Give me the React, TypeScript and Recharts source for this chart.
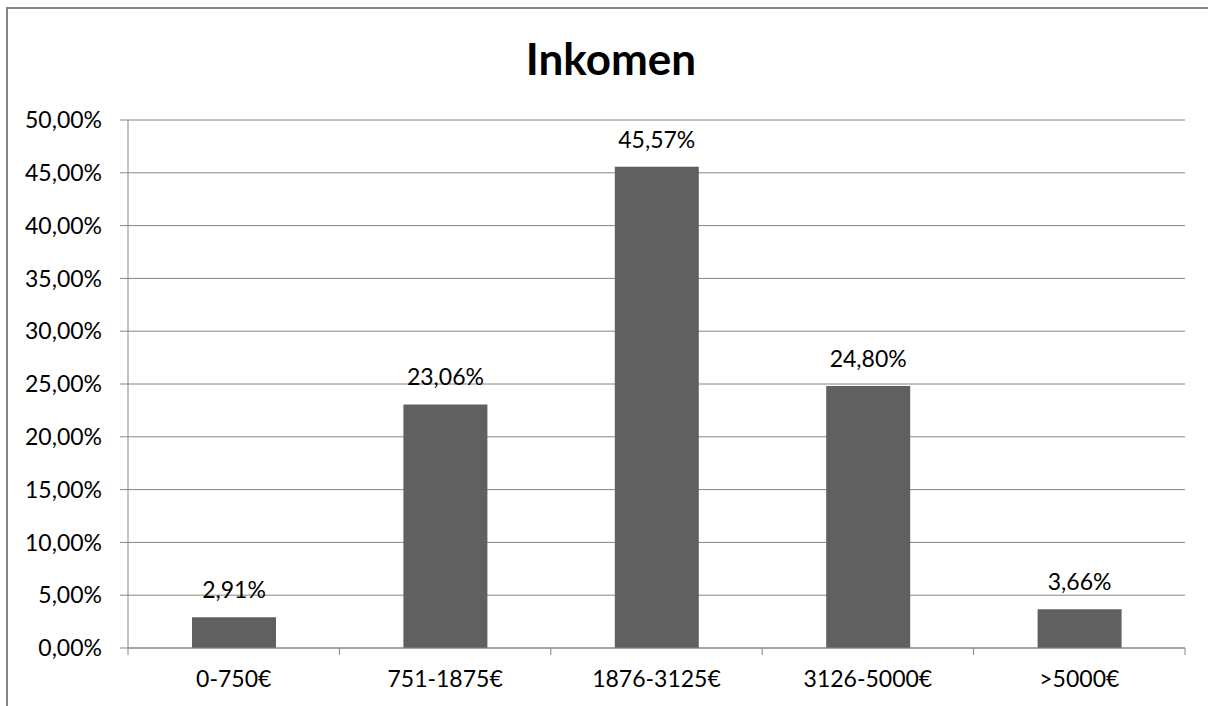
import { BarChart, Bar, XAxis, YAxis, CartesianGrid, LabelList } from "recharts";

const CATEGORIES = ["0-750€", "751-1875€", "1876-3125€", "3126-5000€", ">5000€"];
const SHARES = [2.91, 23.06, 45.57, 24.8, 3.66];
const Y_TICKS = [0, 5, 10, 15, 20, 25, 30, 35, 40, 45, 50];

const W = 1208;
const H = 706;
const MARGIN = { top: 120, right: 23, bottom: 18, left: 8 };
const Y_WIDTH = 120;
const BAND = (W - MARGIN.left - Y_WIDTH - MARGIN.right) / CATEGORIES.length;
const X_TICK_SIZE = 7;
const X_TICK_MARGIN = 16;
const GRID = "#868686";
const FONT = "Lato, 'Open Sans', sans-serif";
const TEXT_SIZE = 23;

const data = CATEGORIES.map((name, i) => ({ name, value: SHARES[i] }));

const pct = (v: number) => v.toFixed(2).replace(".", ",") + "%";

const CategoryTick = (props: any) => {
  const { x, y, payload, index } = props;
  const axisY = y - X_TICK_SIZE - X_TICK_MARGIN;
  const left = x - BAND / 2;
  return (
    <g>
      <line x1={left} y1={axisY} x2={left} y2={axisY + X_TICK_SIZE} stroke={GRID} />
      {index === CATEGORIES.length - 1 && (
        <line x1={left + BAND} y1={axisY} x2={left + BAND} y2={axisY + X_TICK_SIZE} stroke={GRID} />
      )}
      <text x={x} y={y} dy="0.71em" textAnchor="middle" fill="#000" fontSize={TEXT_SIZE} fontFamily={FONT}>
        {payload.value}
      </text>
    </g>
  );
};

const App = () => {
  return (
    <div
      style={{
        position: "fixed",
        left: 0,
        top: 0,
        width: W,
        height: H,
        overflow: "hidden",
        background: "#fff",
        fontFamily: FONT,
      }}
    >
      <div
        style={{
          position: "absolute",
          left: 6,
          top: 7,
          width: W,
          height: H,
          borderTop: `2px solid ${GRID}`,
          borderLeft: `2px solid ${GRID}`,
        }}
      />
      <div
        style={{
          position: "absolute",
          left: 7,
          top: 36,
          width: W,
          textAlign: "center",
          fontSize: 44,
          lineHeight: "44px",
          fontWeight: 700,
          color: "#000",
        }}
      >
        Inkomen
      </div>
      <div style={{ position: "absolute", left: 0, top: 0 }}>
        <BarChart width={W} height={H} data={data} margin={MARGIN}>
          <CartesianGrid vertical={false} stroke={GRID} />
          <XAxis
            dataKey="name"
            height={H - MARGIN.top - MARGIN.bottom - 528}
            axisLine={{ stroke: GRID }}
            tickLine={false}
            tickSize={X_TICK_SIZE}
            tickMargin={X_TICK_MARGIN}
            tick={<CategoryTick />}
            interval={0}
          />
          <YAxis
            width={Y_WIDTH}
            domain={[0, 50]}
            ticks={Y_TICKS}
            tickFormatter={pct}
            axisLine={{ stroke: GRID }}
            tickLine={{ stroke: GRID }}
            tickSize={8}
            tickMargin={18}
            tick={{ fill: "#000", fontSize: TEXT_SIZE, fontFamily: FONT }}
            interval={0}
          />
          <Bar dataKey="value" fill="#606060" barSize={84} isAnimationActive={false}>
            <LabelList
              dataKey="value"
              position="top"
              offset={19}
              formatter={(v: any) => pct(Number(v))}
              fill="#000"
              fontSize={TEXT_SIZE}
              fontFamily={FONT}
            />
          </Bar>
        </BarChart>
      </div>
    </div>
  );
};

export default App;
